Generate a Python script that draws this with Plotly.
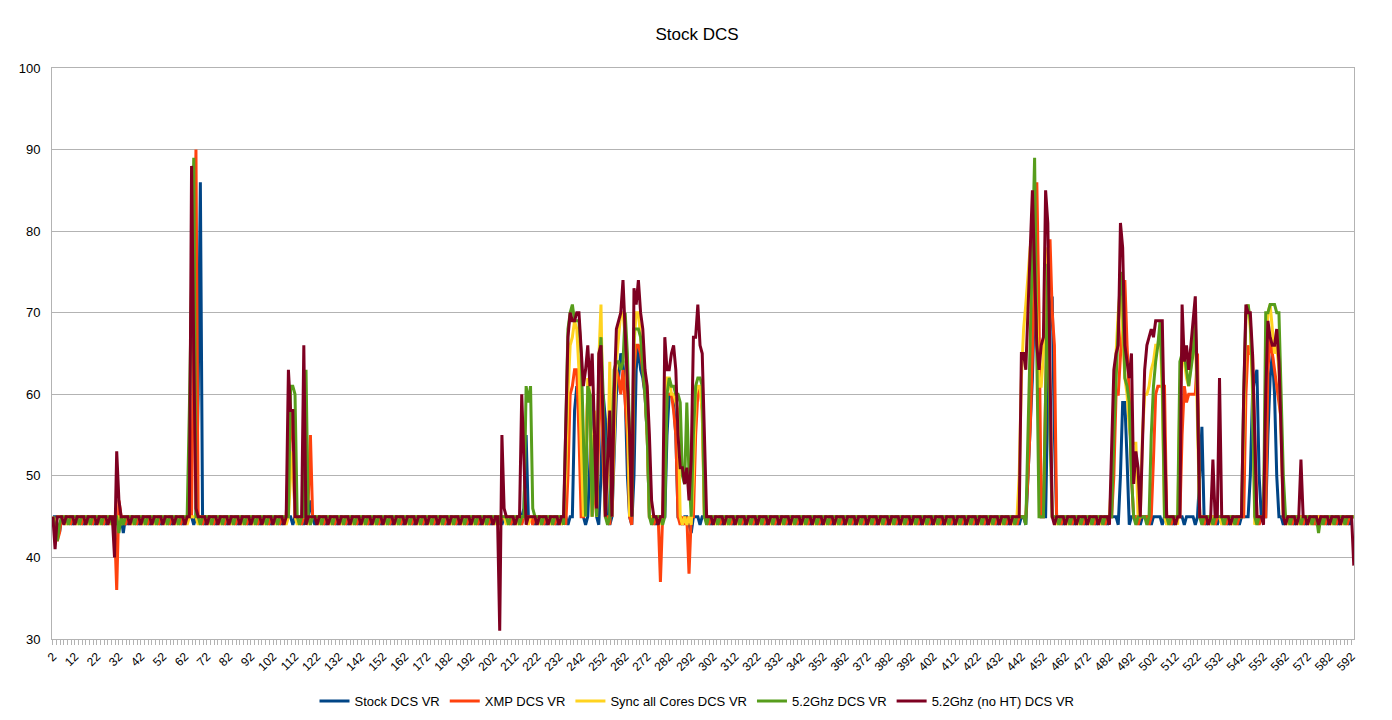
import plotly.graph_objects as go

# Category axis (row numbers 2..593) and labelled ticks
CATEGORIES = list(range(2, 594))
TICK_VALUES = list(range(2, 593, 10))
TICK_LABELS = [str(v) for v in TICK_VALUES]

SERIES_NAMES = ["Stock DCS VR", "XMP DCS VR", "Sync all Cores DCS VR",
                "5.2Ghz DCS VR", "5.2Ghz (no HT) DCS VR"]

STOCK = [
    45,45,44,43,45,45,45,45,45,44,  # 2
    45,45,45,45,44,45,45,45,45,44,  # 12
    45,45,45,45,44,45,45,45,45,44,  # 22
    45,45,43,45,44,45,45,45,45,44,  # 32
    45,45,45,45,44,45,45,45,45,44,  # 42
    45,45,45,45,44,45,45,45,45,44,  # 52
    45,45,45,45,44,45,60,86,45,44,  # 62
    45,45,45,45,44,45,45,45,45,44,  # 72
    45,45,45,45,44,45,45,45,45,44,  # 82
    45,45,45,45,44,45,45,45,45,44,  # 92
    45,45,45,45,44,45,45,45,45,44,  # 102
    45,45,45,45,44,45,45,47,45,44,  # 112
    45,45,45,45,44,45,45,45,45,44,  # 122
    45,45,45,45,44,45,45,45,45,44,  # 132
    45,45,45,45,44,45,45,45,45,44,  # 142
    45,45,45,45,44,45,45,45,45,44,  # 152
    45,45,45,45,44,45,45,45,45,44,  # 162
    45,45,45,45,44,45,45,45,45,44,  # 172
    45,45,45,45,44,45,45,45,45,44,  # 182
    45,45,45,45,44,45,45,45,45,44,  # 192
    45,45,45,45,44,45,45,45,45,44,  # 202
    45,45,45,45,46,55,45,45,45,44,  # 212
    45,45,45,45,44,45,45,45,45,44,  # 222
    45,45,45,45,44,45,45,58,61,60,  # 232
    55,45,44,45,52,60,55,45,44,50,  # 242
    60,57,45,44,45,52,60,62,65,64,  # 252
    60,50,45,44,50,63,66,63,62,60,  # 262
    55,45,45,45,44,45,45,45,45,55,  # 272
    60,60,59,55,45,45,44,45,45,44,  # 282
    43,45,45,45,44,45,45,45,45,44,  # 292
    45,45,45,45,44,45,45,45,45,44,  # 302
    45,45,45,45,44,45,45,45,45,44,  # 312
    45,45,45,45,44,45,45,45,45,44,  # 322
    45,45,45,45,44,45,45,45,45,44,  # 332
    45,45,45,45,44,45,45,45,45,44,  # 342
    45,45,45,45,44,45,45,45,45,44,  # 352
    45,45,45,45,44,45,45,45,45,44,  # 362
    45,45,45,45,44,45,45,45,45,44,  # 372
    45,45,45,45,44,45,45,45,45,44,  # 382
    45,45,45,45,44,45,45,45,45,44,  # 392
    45,45,45,45,44,45,45,45,45,44,  # 402
    45,45,45,45,44,45,45,45,45,44,  # 412
    45,45,45,45,44,45,45,45,45,44,  # 422
    45,45,45,45,44,45,45,45,45,44,  # 432
    45,45,44,50,56,62,72,76,55,45,  # 442
    45,45,60,70,72,55,45,45,45,44,  # 452
    45,45,45,45,44,45,45,45,45,44,  # 462
    45,45,45,45,44,45,45,45,45,44,  # 472
    45,45,45,45,44,50,59,59,52,44,  # 482
    45,45,45,45,44,45,45,45,45,44,  # 492
    45,45,45,45,44,45,45,45,45,44,  # 502
    45,45,45,45,44,45,45,45,45,44,  # 512
    45,50,56,45,44,45,45,45,45,44,  # 522
    45,45,45,45,44,45,45,45,45,44,  # 532
    45,45,45,45,50,60,62,63,50,45,  # 542
    45,45,55,62,65,60,50,45,45,44,  # 552
    45,45,45,45,44,45,45,45,45,44,  # 562
    45,45,45,45,44,45,45,45,45,44,  # 572
    45,45,45,45,44,45,45,45,45,44,  # 582
    45,45,                          # 592
]

XMP = [
    45,44,42,43,45,45,45,45,44,45,  # 2
    45,45,45,44,45,45,45,45,44,45,  # 12
    45,45,45,44,45,45,45,45,44,36,  # 22
    47,45,45,44,45,45,45,45,44,45,  # 32
    45,45,45,44,45,45,45,45,44,45,  # 42
    45,45,45,44,45,45,45,45,44,45,  # 52
    45,45,45,45,69,90,45,45,44,45,  # 62
    45,45,45,44,45,45,45,45,44,45,  # 72
    45,45,45,44,45,45,45,45,44,45,  # 82
    45,45,45,44,45,45,45,45,44,45,  # 92
    45,45,45,44,45,45,45,52,58,54,  # 102
    45,45,45,44,45,45,47,55,45,45,  # 112
    45,45,45,44,45,45,45,45,44,45,  # 122
    45,45,45,44,45,45,45,45,44,45,  # 132
    45,45,45,44,45,45,45,45,44,45,  # 142
    45,45,45,44,45,45,45,45,44,45,  # 152
    45,45,45,44,45,45,45,45,44,45,  # 162
    45,45,45,44,45,45,45,45,44,45,  # 172
    45,45,45,44,45,45,45,45,44,45,  # 182
    45,45,45,44,45,45,45,45,44,45,  # 192
    45,45,45,44,45,45,45,45,44,45,  # 202
    45,45,45,44,45,45,45,45,44,45,  # 212
    45,45,45,44,45,45,45,45,44,45,  # 222
    45,45,45,44,50,60,61,63,63,55,  # 232
    45,45,52,60,57,45,50,45,55,64,  # 242
    52,45,45,44,50,60,63,62,60,63,  # 252
    59,55,45,44,63,66,66,65,63,60,  # 262
    55,45,45,44,45,45,37,45,50,60,  # 272
    60,60,58,55,45,44,45,44,45,38,  # 282
    45,45,55,60,61,58,45,45,44,45,  # 292
    45,45,45,44,45,45,45,45,44,45,  # 302
    45,45,45,44,45,45,45,45,44,45,  # 312
    45,45,45,44,45,45,45,45,44,45,  # 322
    45,45,45,44,45,45,45,45,44,45,  # 332
    45,45,45,44,45,45,45,45,44,45,  # 342
    45,45,45,44,45,45,45,45,44,45,  # 352
    45,45,45,44,45,45,45,45,44,45,  # 362
    45,45,45,44,45,45,45,45,44,45,  # 372
    45,45,45,44,45,45,45,45,44,45,  # 382
    45,45,45,44,45,45,45,45,44,45,  # 392
    45,45,45,44,45,45,45,45,44,45,  # 402
    45,45,45,44,45,45,45,45,44,45,  # 412
    45,45,45,44,45,45,45,45,44,45,  # 422
    45,45,45,44,45,45,45,45,44,45,  # 432
    45,45,45,50,56,65,75,86,70,45,  # 442
    45,60,75,79,70,66,45,45,44,45,  # 452
    45,45,45,44,45,45,45,45,44,45,  # 462
    45,45,45,44,45,45,45,45,44,45,  # 472
    45,45,50,60,60,65,70,74,66,60,  # 482
    50,45,45,44,45,45,45,45,44,45,  # 492
    52,60,61,61,61,61,45,45,44,45,  # 502
    45,45,45,55,61,59,60,60,60,60,  # 512
    65,45,45,44,45,45,45,45,44,45,  # 522
    45,45,45,44,45,45,45,45,44,45,  # 532
    45,45,60,66,65,65,55,45,44,45,  # 542
    45,45,63,67,65,63,61,59,57,45,  # 552
    45,45,45,44,45,45,45,45,44,45,  # 562
    45,45,45,44,45,45,45,45,44,45,  # 572
    45,45,45,44,45,45,45,45,44,45,  # 582
    45,45,                          # 592
]

SYNC_ALL = [
    45,44,45,45,45,45,44,45,45,45,  # 2
    45,44,45,45,45,45,44,45,45,45,  # 12
    45,44,45,45,45,45,44,45,45,45,  # 22
    45,44,45,45,45,45,44,45,45,45,  # 32
    45,44,45,45,45,45,44,45,45,45,  # 42
    45,44,45,45,45,45,44,45,45,45,  # 52
    45,44,45,45,45,45,44,45,45,45,  # 62
    45,44,45,45,45,45,44,45,45,45,  # 72
    45,44,45,45,45,45,44,45,45,45,  # 82
    45,44,45,45,45,45,44,45,45,45,  # 92
    45,44,45,45,45,45,44,45,50,53,  # 102
    45,44,45,45,45,45,44,45,45,45,  # 112
    45,44,45,45,45,45,44,45,45,45,  # 122
    45,44,45,45,45,45,44,45,45,45,  # 132
    45,44,45,45,45,45,44,45,45,45,  # 142
    45,44,45,45,45,45,44,45,45,45,  # 152
    45,44,45,45,45,45,44,45,45,45,  # 162
    45,44,45,45,45,45,44,45,45,45,  # 172
    45,44,45,45,45,45,44,45,45,45,  # 182
    45,44,45,45,45,45,44,45,45,45,  # 192
    45,44,45,45,45,45,44,45,45,45,  # 202
    45,44,45,45,45,45,44,45,45,45,  # 212
    45,44,45,45,45,45,44,45,45,45,  # 222
    45,44,45,50,60,66,67,69,68,63,  # 232
    55,45,50,62,60,45,58,45,64,71,  # 242
    55,45,50,64,45,55,64,67,70,70,  # 252
    67,60,45,50,66,70,70,67,65,62,  # 262
    55,45,45,45,45,45,44,45,55,62,  # 272
    62,60,60,59,58,45,44,45,44,45,  # 282
    44,50,60,61,61,58,45,45,45,45,  # 292
    45,44,45,45,45,45,44,45,45,45,  # 302
    45,44,45,45,45,45,44,45,45,45,  # 312
    45,44,45,45,45,45,44,45,45,45,  # 322
    45,44,45,45,45,45,44,45,45,45,  # 332
    45,44,45,45,45,45,44,45,45,45,  # 342
    45,44,45,45,45,45,44,45,45,45,  # 352
    45,44,45,45,45,45,44,45,45,45,  # 362
    45,44,45,45,45,45,44,45,45,45,  # 372
    45,44,45,45,45,45,44,45,45,45,  # 382
    45,44,45,45,45,45,44,45,45,45,  # 392
    45,44,45,45,45,45,44,45,45,45,  # 402
    45,44,45,45,45,45,44,45,45,45,  # 412
    45,44,45,45,45,45,44,45,45,45,  # 422
    45,44,45,45,45,45,44,45,45,50,  # 432
    62,68,71,75,78,80,80,70,61,61,  # 442
    65,75,78,60,45,45,44,45,45,45,  # 452
    45,44,45,45,45,45,44,45,45,45,  # 462
    45,44,45,45,45,45,44,45,45,45,  # 472
    45,50,60,65,70,73,68,62,60,56,  # 482
    54,54,54,45,45,55,60,60,61,63,  # 492
    64,66,66,68,60,45,44,45,45,45,  # 502
    45,44,60,66,64,62,61,64,66,68,  # 512
    55,45,45,45,45,45,44,45,45,45,  # 522
    45,44,45,45,45,45,44,45,45,45,  # 532
    45,55,70,71,68,60,44,45,45,45,  # 542
    45,62,70,71,68,65,66,63,55,45,  # 552
    45,44,45,45,45,45,44,45,45,45,  # 562
    45,44,45,45,45,45,44,45,45,45,  # 572
    45,44,45,45,45,45,44,45,45,45,  # 582
    45,45,                          # 592
]

GHZ52 = [
    45,44,42,44,45,45,45,44,45,45,  # 2
    45,45,44,45,45,45,45,44,45,45,  # 12
    45,45,44,45,45,45,45,44,45,45,  # 22
    43,45,44,45,45,45,45,44,45,45,  # 32
    45,45,44,45,45,45,45,44,45,45,  # 42
    45,45,44,45,45,45,45,44,45,45,  # 52
    45,45,58,74,89,45,45,44,45,45,  # 62
    45,45,44,45,45,45,45,44,45,45,  # 72
    45,45,44,45,45,45,45,44,45,45,  # 82
    45,45,44,45,45,45,45,44,45,45,  # 92
    45,45,44,45,45,45,45,45,61,61,  # 102
    60,45,44,45,45,63,45,44,45,45,  # 112
    45,45,44,45,45,45,45,44,45,45,  # 122
    45,45,44,45,45,45,45,44,45,45,  # 132
    45,45,44,45,45,45,45,44,45,45,  # 142
    45,45,44,45,45,45,45,44,45,45,  # 152
    45,45,44,45,45,45,45,44,45,45,  # 162
    45,45,44,45,45,45,45,44,45,45,  # 172
    45,45,44,45,45,45,45,44,45,45,  # 182
    45,45,44,45,45,45,45,44,45,45,  # 192
    45,45,44,45,45,45,45,44,45,45,  # 202
    45,45,44,45,45,61,59,61,46,45,  # 212
    45,45,44,45,45,45,45,44,45,45,  # 222
    45,45,44,55,68,70,71,69,69,69,  # 232
    65,55,45,61,60,45,55,45,63,67,  # 242
    60,45,44,45,55,63,64,64,63,64,  # 252
    70,65,55,45,68,68,68,67,64,60,  # 262
    55,45,44,45,45,45,45,44,45,60,  # 272
    62,61,61,60,60,59,50,49,59,50,  # 282
    45,55,61,62,62,61,45,44,45,45,  # 292
    45,45,44,45,45,45,45,44,45,45,  # 302
    45,45,44,45,45,45,45,44,45,45,  # 312
    45,45,44,45,45,45,45,44,45,45,  # 322
    45,45,44,45,45,45,45,44,45,45,  # 332
    45,45,44,45,45,45,45,44,45,45,  # 342
    45,45,44,45,45,45,45,44,45,45,  # 352
    45,45,44,45,45,45,45,44,45,45,  # 362
    45,45,44,45,45,45,45,44,45,45,  # 372
    45,45,44,45,45,45,45,44,45,45,  # 382
    45,45,44,45,45,45,45,44,45,45,  # 392
    45,45,44,45,45,45,45,44,45,45,  # 402
    45,45,44,45,45,45,45,44,45,45,  # 412
    45,45,44,45,45,45,45,44,45,45,  # 422
    45,45,44,45,45,45,45,44,45,45,  # 432
    45,45,44,55,65,75,89,65,45,45,  # 442
    45,60,76,55,45,45,45,44,45,45,  # 452
    45,45,44,45,45,45,45,44,45,45,  # 462
    45,45,44,45,45,45,45,44,45,45,  # 472
    45,45,55,62,69,75,72,62,61,59,  # 482
    50,45,44,45,45,45,45,44,45,55,  # 492
    61,64,66,69,62,45,45,44,45,45,  # 502
    45,45,64,65,65,63,61,63,65,69,  # 512
    60,45,44,45,45,45,45,44,45,45,  # 522
    45,45,44,45,45,45,45,44,45,45,  # 532
    45,60,70,71,69,62,45,44,45,45,  # 542
    45,70,70,71,71,71,70,70,60,50,  # 552
    45,45,44,45,45,45,45,44,45,45,  # 562
    45,45,44,45,45,43,45,44,45,45,  # 572
    45,45,44,45,45,45,45,44,45,45,  # 582
    45,45,                          # 592
]

GHZ52_NO_HT = [
    45,41,45,45,45,44,45,45,45,45,  # 2
    44,45,45,45,45,44,45,45,45,45,  # 12
    44,45,45,45,45,44,45,45,40,53,  # 22
    47,45,45,45,45,44,45,45,45,45,  # 32
    44,45,45,45,45,44,45,45,45,45,  # 42
    44,45,45,45,45,44,45,45,45,45,  # 52
    44,45,45,88,65,46,45,45,45,45,  # 62
    44,45,45,45,45,44,45,45,45,45,  # 72
    44,45,45,45,45,44,45,45,45,45,  # 82
    44,45,45,45,45,44,45,45,45,45,  # 92
    44,45,45,45,45,44,45,63,58,58,  # 102
    45,45,45,45,66,44,45,45,45,45,  # 112
    44,45,45,45,45,44,45,45,45,45,  # 122
    44,45,45,45,45,44,45,45,45,45,  # 132
    44,45,45,45,45,44,45,45,45,45,  # 142
    44,45,45,45,45,44,45,45,45,45,  # 152
    44,45,45,45,45,44,45,45,45,45,  # 162
    44,45,45,45,45,44,45,45,45,45,  # 172
    44,45,45,45,45,44,45,45,45,45,  # 182
    44,45,45,45,45,44,45,45,45,45,  # 192
    44,45,45,31,55,46,45,45,45,45,  # 202
    44,45,45,60,52,44,45,45,45,45,  # 212
    44,45,45,45,45,44,45,45,45,45,  # 222
    44,45,45,56,67,70,69,69,70,70,  # 232
    65,61,63,66,61,65,56,46,65,66,  # 242
    56,45,52,58,45,60,68,69,70,74,  # 252
    68,63,55,45,73,71,74,70,68,63,  # 262
    61,55,47,45,45,44,45,45,67,63,  # 272
    63,65,66,63,55,51,51,49,51,47,  # 282
    52,67,67,71,66,65,55,45,45,45,  # 292
    44,45,45,45,45,44,45,45,45,45,  # 302
    44,45,45,45,45,44,45,45,45,45,  # 312
    44,45,45,45,45,44,45,45,45,45,  # 322
    44,45,45,45,45,44,45,45,45,45,  # 332
    44,45,45,45,45,44,45,45,45,45,  # 342
    44,45,45,45,45,44,45,45,45,45,  # 352
    44,45,45,45,45,44,45,45,45,45,  # 362
    44,45,45,45,45,44,45,45,45,45,  # 372
    44,45,45,45,45,44,45,45,45,45,  # 382
    44,45,45,45,45,44,45,45,45,45,  # 392
    44,45,45,45,45,44,45,45,45,45,  # 402
    44,45,45,45,45,44,45,45,45,45,  # 412
    44,45,45,45,45,44,45,45,45,45,  # 422
    44,45,45,45,45,44,45,45,45,45,  # 432
    65,65,63,70,78,85,75,66,63,66,  # 442
    67,85,81,65,45,44,45,45,45,45,  # 452
    44,45,45,45,45,44,45,45,45,45,  # 462
    44,45,45,45,45,44,45,45,45,45,  # 472
    44,55,63,65,66,81,78,66,64,62,  # 482
    65,49,53,51,45,55,63,66,67,68,  # 492
    67,69,69,69,69,55,45,45,45,45,  # 502
    44,45,45,71,64,66,63,66,68,72,  # 512
    60,45,45,45,45,44,45,52,45,45,  # 522
    62,45,45,45,45,44,45,45,45,45,  # 532
    45,60,71,70,70,65,55,45,45,45,  # 542
    44,60,69,67,66,66,68,64,55,45,  # 552
    44,45,45,45,45,44,45,52,45,45,  # 562
    44,45,45,45,45,44,45,45,45,45,  # 572
    44,45,45,45,45,44,45,45,45,45,  # 582
    45,39,                          # 592
]

SERIES_VALUES = [STOCK, XMP, SYNC_ALL, GHZ52, GHZ52_NO_HT]
COLORS = ["#004586", "#ff420e", "#ffd320", "#579d1c", "#7e0021"]

GRID = "#b3b3b3"

# The page body has an 8px margin; the figure is sized so the plot area lands
# at x 52..1354, y 68..639 in the browser window.
FIG_W, FIG_H = 1384, 712

fig = go.Figure()
for name, vals, col in zip(SERIES_NAMES, SERIES_VALUES, COLORS):
    fig.add_trace(go.Scatter(
        x=CATEGORIES, y=vals, name=name, mode="lines",
        line=dict(color=col, width=3),
    ))

fig.update_layout(
    width=FIG_W, height=FIG_H,
    margin=dict(l=44, r=38, t=60, b=81, pad=0),
    paper_bgcolor="white", plot_bgcolor="white",
    font=dict(family="Liberation Sans, Arial, sans-serif", size=13, color="#000000"),
    title=dict(text="Stock DCS", x=689 / FIG_W, xref="container", xanchor="center",
               y=1 - 26 / FIG_H, yref="container", yanchor="middle",
               font=dict(size=17, color="#000000")),
    showlegend=True,
    legend=dict(orientation="h", x=689 / FIG_W, xanchor="center", xref="container",
                y=1 - 693 / FIG_H, yref="container", yanchor="middle",
                font=dict(size=13), itemwidth=30, bgcolor="rgba(0,0,0,0)"),
    xaxis=dict(
        range=[1.6, 593.1], tickmode="array", tickvals=TICK_VALUES, ticktext=TICK_LABELS,
        tickangle=-45, ticks="outside", ticklen=5, tickcolor=GRID,
        showline=True, linecolor=GRID, linewidth=1, mirror=True,
        showgrid=False, zeroline=False, tickfont=dict(size=12),
        minor=dict(ticks="outside", ticklen=5, tickcolor=GRID, tickmode="linear",
                   tick0=2, dtick=10 / 6, showgrid=False),
    ),
    yaxis=dict(
        range=[30, 100], tick0=30, dtick=10, showgrid=True, gridcolor=GRID,
        showline=True, linecolor=GRID, linewidth=1, mirror=True,
        zeroline=False, ticks="", ticklabelstandoff=8, tickfont=dict(size=13),
    ),
)

fig.write_html("out.html")
